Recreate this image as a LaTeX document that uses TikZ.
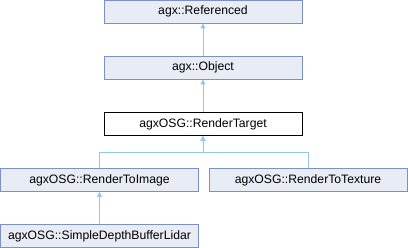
\documentclass[tikz,border=0pt]{standalone}
\usepackage{fontspec}
\setmainfont{Liberation Sans}
\usetikzlibrary{arrows.meta}
\definecolor{boxfill}{HTML}{E8ECF5}
\definecolor{boxdraw}{HTML}{7A90C6}
\definecolor{edgecol}{HTML}{94C8E8}
\begin{document}
\begin{tikzpicture}[x=1pt,y=-1pt,
  cls/.style={draw=boxdraw,fill=boxfill,line width=0.8pt,minimum width=198pt,minimum height=23pt,inner sep=0pt,font=\fontsize{12.2}{14}\selectfont},
  cur/.style={cls,draw=black,fill=white},
  inh/.style={draw=edgecol,line width=0.8pt,{Triangle[width=5pt,length=5pt,fill=edgecol]}-}]
\useasboundingbox (0,0) rectangle (408,248);
\node[cls] (ref) at (203,11.5) {agx::Referenced};
\node[cls] (obj) at (203,67.5) {agx::Object};
\node[cur] (rt) at (203,124) {agxOSG::RenderTarget};
\node[cls] (rti) at (99.5,180) {agxOSG::RenderToImage};
\node[cls] (rtt) at (308,180) {agxOSG::RenderToTexture};
\node[cls] (sdb) at (99.5,236) {agxOSG::SimpleDepthBufferLidar};
\draw[inh] (ref.south) -- (obj.north);
\draw[inh] (obj.south) -- (rt.north);
\draw[inh] (rt.south) -- ++(0,16.5) -| (rti.north);
\draw[inh] (rt.south) -- ++(0,16.5) -| (rtt.north);
\draw[inh] (rti.south) -- (sdb.north);
\end{tikzpicture}
\end{document}
